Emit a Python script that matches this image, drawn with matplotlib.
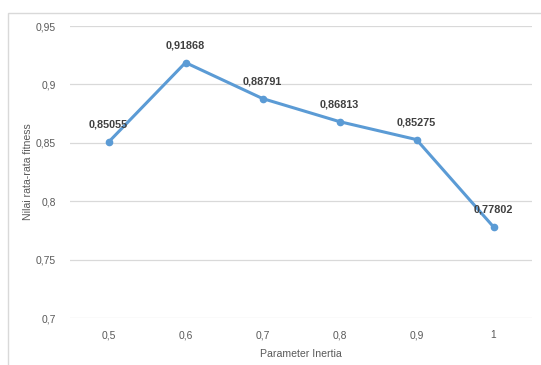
import matplotlib.pyplot as plt
from matplotlib.patches import Rectangle

# inertia weight vs mean fitness
inertia = ["0,5", "0,6", "0,7", "0,8", "0,9", "1"]
fitness = [0.85055, 0.91868, 0.88791, 0.86813, 0.85275, 0.77802]
yticks = [0.7, 0.75, 0.8, 0.85, 0.9, 0.95]
ytick_labels = ["0,7", "0,75", "0,8", "0,85", "0,9", "0,95"]

plt.rcParams['font.family'] = ['Liberation Sans', 'DejaVu Sans']
grey = '#595959'
blue = '#5B9BD5'

fig = plt.figure(figsize=(5.41, 3.65), dpi=100)
ax = fig.add_axes([70/541, 1 - 318/365, 462/541, 292/365])

# chart frame
fig.patches.append(Rectangle((8/541, -0.1), 1.1, 1 - 13/365 + 0.1,
                             transform=fig.transFigure, fill=False,
                             edgecolor='#d9d9d9', linewidth=1.0))

x = list(range(len(inertia)))
ax.plot(x, fitness, color=blue, linewidth=2.2, marker='o', markersize=4.5,
        solid_joinstyle='round', zorder=3)

for xi, v in zip(x, fitness):
    ax.annotate(("%.5f" % v).replace('.', ','), (xi, v),
                xytext=(0, 9), textcoords='offset points',
                ha='center', va='bottom', fontsize=7.8, fontweight='bold',
                color='#404040', zorder=4)

ax.set_xlim(-0.5, len(inertia) - 0.5)
ax.set_ylim(0.7, 0.95)
ax.set_xticks(x)
ax.set_xticklabels(inertia)
ax.set_yticks(yticks)
ax.set_yticklabels(ytick_labels)
ax.grid(axis='y', color='#d9d9d9', linewidth=0.9)
ax.set_axisbelow(True)
for s in ax.spines.values():
    s.set_visible(False)
ax.tick_params(length=0, labelsize=7.4, colors=grey, pad=10)
ax.tick_params(axis='x', pad=9)

ax.set_xlabel('Parameter Inertia', fontsize=7.6, color=grey, labelpad=6)
ax.set_ylabel('Nilai rata-rata fitness', fontsize=7.6, color=grey, labelpad=2)

plt.savefig('out.png', dpi=100)
plt.close()
